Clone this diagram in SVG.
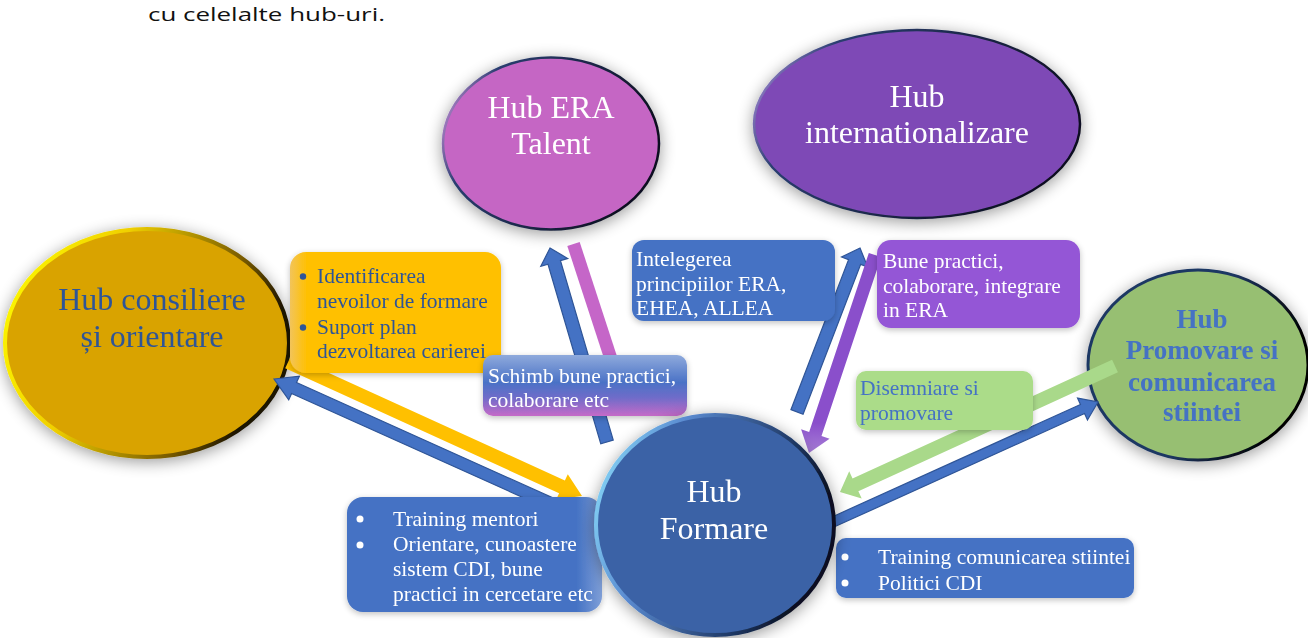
<svg xmlns="http://www.w3.org/2000/svg" width="1308" height="638" viewBox="0 0 1308 638">
<defs>
<style>
.serif{font-family:"Liberation Serif","Times New Roman",serif}
.hub{font-size:32px}
.lbl{font-size:21.5px}
.w{fill:#ffffff}
.db{fill:#2F5597}
.bb{fill:#4472C4}
.arrB{fill:#4472C4;stroke:#2F5597;stroke-width:1.2;stroke-linejoin:miter}
</style>
<filter id="sh" x="-25%" y="-25%" width="150%" height="150%">
<feGaussianBlur in="SourceAlpha" stdDeviation="8"/>
<feOffset dx="0" dy="3"/>
<feComponentTransfer><feFuncA type="linear" slope="0.4"/></feComponentTransfer>
<feMerge><feMergeNode/><feMergeNode in="SourceGraphic"/></feMerge>
</filter>
<filter id="bsh" x="-10%" y="-10%" width="120%" height="125%">
<feGaussianBlur in="SourceAlpha" stdDeviation="3"/>
<feOffset dx="0" dy="2"/>
<feComponentTransfer><feFuncA type="linear" slope="0.25"/></feComponentTransfer>
<feMerge><feMergeNode/><feMergeNode in="SourceGraphic"/></feMerge>
</filter>
<linearGradient id="edgeEra" x1="0" y1="0" x2="1" y2="0.3">
<stop offset="0" stop-color="#F8A8F8"/><stop offset="0.25" stop-color="#2A3E70"/><stop offset="1" stop-color="#0D1020"/>
</linearGradient>
<linearGradient id="edgeInt" x1="0" y1="0" x2="1" y2="0.3">
<stop offset="0" stop-color="#C9A0F5"/><stop offset="0.25" stop-color="#2A3E70"/><stop offset="1" stop-color="#0D1020"/>
</linearGradient>
<linearGradient id="edgeCon" x1="0" y1="0" x2="1" y2="0.3">
<stop offset="0" stop-color="#FFFF00"/><stop offset="0.4" stop-color="#F0D000"/><stop offset="0.8" stop-color="#7A5C00"/><stop offset="1" stop-color="#1A1200"/>
</linearGradient>
<linearGradient id="edgeFor" x1="0" y1="0" x2="1" y2="0.3">
<stop offset="0" stop-color="#8FE6FF"/><stop offset="0.35" stop-color="#5A8AD0"/><stop offset="0.8" stop-color="#1F3864"/><stop offset="1" stop-color="#0A1020"/>
</linearGradient>
<linearGradient id="edgePro" x1="0" y1="0" x2="1" y2="0.3">
<stop offset="0" stop-color="#1F3864"/><stop offset="0.6" stop-color="#1F3864"/><stop offset="1" stop-color="#000000"/>
</linearGradient>
<linearGradient id="schimb" x1="0" y1="0" x2="0" y2="1">
<stop offset="0" stop-color="#8FAADC"/><stop offset="0.45" stop-color="#4A72C6"/><stop offset="0.7" stop-color="#6F6CC9"/><stop offset="1" stop-color="#C56BC8"/>
</linearGradient>
<linearGradient id="orgBox" x1="0" y1="0" x2="1" y2="0">
<stop offset="0" stop-color="#F2C45A"/><stop offset="0.08" stop-color="#FFC000"/><stop offset="1" stop-color="#FFC000"/>
</linearGradient>
<linearGradient id="leftBox" x1="0" y1="0" x2="1" y2="0">
<stop offset="0" stop-color="#4472C4"/><stop offset="0.9" stop-color="#4472C4"/><stop offset="1" stop-color="#7F9FD8"/>
</linearGradient>
<linearGradient id="purpArr" x1="0" y1="0" x2="0" y2="1">
<stop offset="0" stop-color="#8A4FCB"/><stop offset="0.85" stop-color="#8A4FCB"/><stop offset="1" stop-color="#A77ED6"/>
</linearGradient>
</defs>

<rect width="1308" height="638" fill="#ffffff"/>

<text x="148" y="21" font-family="'Open Sans','Liberation Sans',sans-serif" font-size="19" fill="#111111" textLength="237" lengthAdjust="spacingAndGlyphs">cu celelalte hub-uri.</text>

<g id="hub-consiliere" filter="url(#sh)">
<ellipse cx="147" cy="343" rx="142" ry="114" fill="#D9A300" stroke="url(#edgeCon)" stroke-width="4"/>
<text class="serif hub db" x="152" y="310" text-anchor="middle">Hub consiliere</text>
<text class="serif hub db" x="152" y="347" text-anchor="middle">și orientare</text>
</g>

<g id="hub-era-talent" filter="url(#sh)">
<ellipse cx="551" cy="143.5" rx="108" ry="86" fill="#C566C4" stroke="url(#edgeEra)" stroke-width="2.5"/>
<text class="serif hub w" x="551" y="118" text-anchor="middle">Hub ERA</text>
<text class="serif hub w" x="551" y="154" text-anchor="middle">Talent</text>
</g>

<g id="hub-internationalizare" filter="url(#sh)">
<ellipse cx="917" cy="124" rx="163" ry="94" fill="#7E4AB6" stroke="url(#edgeInt)" stroke-width="2.5"/>
<text class="serif hub w" x="917" y="107" text-anchor="middle">Hub</text>
<text class="serif hub w" x="917" y="143" text-anchor="middle">internationalizare</text>
</g>

<g id="hub-promovare" filter="url(#sh)">
<ellipse cx="1198" cy="365" rx="110" ry="95" fill="#97BF72" stroke="url(#edgePro)" stroke-width="3"/>
<g class="serif bb" font-size="27" font-weight="bold" text-anchor="middle">
<text x="1202" y="328">Hub</text>
<text x="1202" y="359">Promovare si</text>
<text x="1202" y="391">comunicarea</text>
<text x="1202" y="421">stiintei</text>
</g>
</g>

<g id="connectors">
<polygon class="arrB" points="274,379 299.39,376.16 296.52,382.55 602.06,519.93 597.14,530.87 291.6,393.49 288.73,399.88"/>
<polygon fill="#FFC000" points="582,496 567.79,474.13 564.89,480.5 291,355.63 285.2,368.37 559.08,493.24 556.17,499.61"/>
<polygon class="arrB" points="550,248 567.66,258.44 560.46,260.56 613.23,440.17 600.77,443.83 548,264.22 540.8,266.34"/>
<polygon fill="#C566C8" points="567.32,246.02 579.68,241.98 618.18,359.98 605.82,364.02"/>
<polygon class="arrB" points="860,248 867.68,267.02 860.68,264.33 803.06,414.33 790.94,409.67 848.56,259.66 841.56,256.97"/>
<polygon fill="url(#purpArr)" points="809,453 829.56,438.76 821.49,436.07 881.17,257.05 868.83,252.95 809.15,431.97 801.09,429.28"/>
<polygon class="arrB" points="1098,402 1087.46,419.94 1084.57,413.57 835.06,526.56 830.94,517.44 1080.45,404.45 1077.56,398.08"/>
<polygon fill="#A9D98A" points="840,492 861.7,498.56 858.37,491.28 1117.92,372.36 1112.08,359.64 852.53,478.56 849.2,471.28"/>
</g>

<g id="box-consiliere" filter="url(#bsh)">
<rect x="290" y="252" width="211" height="121" rx="16" fill="url(#orgBox)"/>
<circle cx="303" cy="276.5" r="3.2" fill="#2F5597"/>
<circle cx="303" cy="327.5" r="3.2" fill="#2F5597"/>
<g class="serif lbl db">
<text x="317" y="283">Identificarea</text>
<text x="317" y="308">nevoilor de formare</text>
<text x="317" y="334">Suport plan</text>
<text x="317" y="358">dezvoltarea carierei</text>
</g>
</g>

<g id="box-schimb" filter="url(#bsh)">
<rect x="483" y="355" width="204" height="61" rx="10" fill="url(#schimb)"/>
<g class="serif lbl w">
<text x="488" y="383">Schimb bune practici,</text>
<text x="488" y="407">colaborare etc</text>
</g>
</g>

<g id="box-intelegerea" filter="url(#bsh)">
<rect x="632" y="240" width="203" height="81" rx="12" fill="#4472C4"/>
<g class="serif lbl w">
<text x="636" y="266">Intelegerea</text>
<text x="636" y="291">principiilor ERA,</text>
<text x="636" y="315">EHEA, ALLEA</text>
</g>
</g>

<g id="box-bune-practici" filter="url(#bsh)">
<rect x="877" y="240" width="203" height="88" rx="14" fill="#9456D6"/>
<g class="serif lbl w">
<text x="883" y="268">Bune practici,</text>
<text x="883" y="293">colaborare, integrare</text>
<text x="883" y="317">in ERA</text>
</g>
</g>

<g id="box-disemniare" filter="url(#bsh)">
<rect x="856" y="371" width="177" height="59" rx="10" fill="#ABDC89"/>
<g class="serif lbl bb">
<text x="860" y="395">Disemniare si</text>
<text x="860" y="420">promovare</text>
</g>
</g>

<g id="box-training-mentori" filter="url(#bsh)">
<rect x="347" y="497" width="255" height="115" rx="16" fill="url(#leftBox)"/>
<circle cx="360" cy="519" r="3.5" fill="#ffffff"/>
<circle cx="360" cy="545" r="3.5" fill="#ffffff"/>
<g class="serif lbl w">
<text x="393" y="526">Training mentori</text>
<text x="393" y="551">Orientare, cunoastere</text>
<text x="393" y="576">sistem CDI, bune</text>
<text x="393" y="601">practici in cercetare etc</text>
</g>
</g>

<g id="box-training-comunicare" filter="url(#bsh)">
<rect x="836" y="538" width="298" height="60" rx="10" fill="#4472C4"/>
<circle cx="845" cy="557" r="3.5" fill="#ffffff"/>
<circle cx="845" cy="583" r="3.5" fill="#ffffff"/>
<g class="serif lbl w">
<text x="878" y="564">Training comunicarea stiintei</text>
<text x="878" y="590">Politici CDI</text>
</g>
</g>

<g id="hub-formare" filter="url(#sh)">
<ellipse cx="715" cy="525" rx="119" ry="110" fill="#3A62A6" stroke="url(#edgeFor)" stroke-width="4"/>
<text class="serif hub w" x="714" y="502" text-anchor="middle">Hub</text>
<text class="serif hub w" x="714" y="539" text-anchor="middle">Formare</text>
</g>
</svg>
